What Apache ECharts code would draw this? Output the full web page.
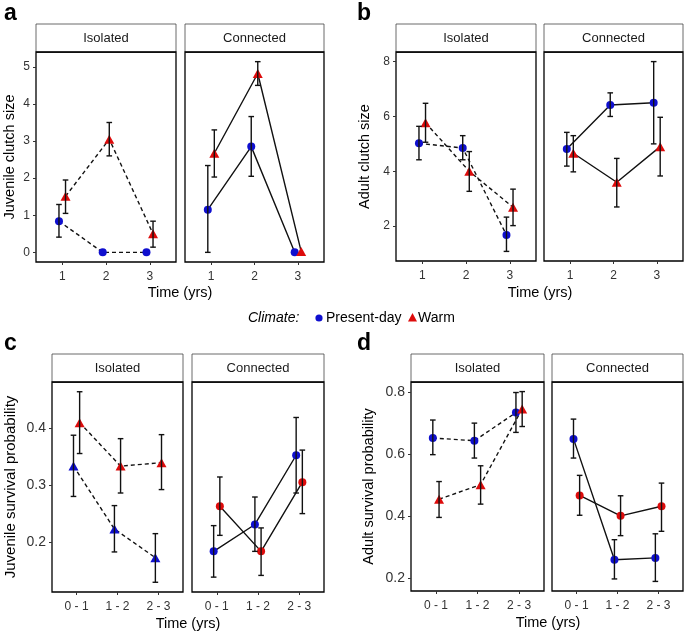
<!DOCTYPE html>
<html><head><meta charset="utf-8">
<script src="https://cdn.jsdelivr.net/npm/echarts@6/dist/echarts.min.js"></script>
<style>html,body{margin:0;padding:0;background:#fff}#c{width:691px;height:636px}</style>
</head><body><div id="c"></div>
<script>
// ---------- categories / tick labels ----------
const timeYears = ['1', '2', '3'];
const timeIntervals = ['0 - 1', '1 - 2', '2 - 3'];
const facets = ['Isolated', 'Connected'];
const climates = ['Present-day', 'Warm'];

// ---------- panel a: Juvenile clutch size ----------
const aIsoPresent   = [0.84, 0.00, 0.00];
const aIsoPresentLo = [0.41, null, null];
const aIsoPresentHi = [1.29, null, null];
const aIsoWarm      = [1.51, 3.05, 0.50];
const aIsoWarmLo    = [1.05, 2.60, 0.14];
const aIsoWarmHi    = [1.95, 3.50, 0.84];
const aConPresent   = [1.15, 2.85, 0.00];
const aConPresentLo = [0.00, 2.05, null];
const aConPresentHi = [2.34, 3.66, null];
const aConWarm      = [2.67, 4.82, 0.02];
const aConWarmLo    = [2.03, 4.50, null];
const aConWarmHi    = [3.30, 5.14, null];

// ---------- panel b: Adult clutch size ----------
const bIsoPresent   = [5.02, 4.85, 1.68];
const bIsoPresentLo = [4.42, 4.42, 1.08];
const bIsoPresentHi = [5.64, 5.30, 2.33];
const bIsoWarm      = [5.77, 4.00, 2.69];
const bIsoWarmLo    = [5.06, 3.27, 2.02];
const bIsoWarmHi    = [6.48, 4.72, 3.35];
const bConPresent   = [4.81, 6.42, 6.50];
const bConPresentLo = [4.19, 6.00, 5.00];
const bConPresentHi = [5.42, 6.86, 8.00];
const bConWarm      = [4.66, 3.60, 4.90];
const bConWarmLo    = [3.98, 2.70, 3.83];
const bConWarmHi    = [5.30, 4.47, 5.97];

// ---------- panel c: Juvenile survival probability ----------
const cIsoPresent   = [0.333, 0.223, 0.173];
const cIsoPresentLo = [0.280, 0.183, 0.130];
const cIsoPresentHi = [0.387, 0.264, 0.215];
const cIsoWarm      = [0.409, 0.333, 0.339];
const cIsoWarmLo    = [0.355, 0.286, 0.292];
const cIsoWarmHi    = [0.463, 0.381, 0.388];
const cConPresent   = [0.184, 0.231, 0.352];
const cConPresentLo = [0.139, 0.184, 0.286];
const cConPresentHi = [0.229, 0.279, 0.418];
const cConWarm      = [0.263, 0.184, 0.305];
const cConWarmLo    = [0.212, 0.142, 0.250];
const cConWarmHi    = [0.314, 0.225, 0.361];

// ---------- panel d: Adult survival probability ----------
const dIsoPresent   = [0.653, 0.644, 0.735];
const dIsoPresentLo = [0.599, 0.588, 0.671];
const dIsoPresentHi = [0.711, 0.701, 0.800];
const dIsoWarm      = [0.455, 0.502, 0.747];
const dIsoWarmLo    = [0.396, 0.439, 0.690];
const dIsoWarmHi    = [0.512, 0.563, 0.803];
const dConPresent   = [0.650, 0.259, 0.265];
const dConPresentLo = [0.588, 0.197, 0.189];
const dConPresentHi = [0.714, 0.324, 0.343];
const dConWarm      = [0.467, 0.401, 0.432];
const dConWarmLo    = [0.403, 0.337, 0.351];
const dConWarmHi    = [0.532, 0.466, 0.507];

// ---------- y tick values ----------
const aTicks = [0, 1, 2, 3, 4, 5];
const bTicks = [2, 4, 6, 8];
const cTicks = [0.2, 0.3, 0.4];
const dTicks = [0.2, 0.4, 0.6, 0.8];

// ---------- layout / style ----------
const FONT = '"Liberation Sans", Arial, sans-serif';
const BLUE = '#0f0fcf';
const RED = '#dd0b0b';
const DODGE = 0.075;

const panels = [
  { letter: 'a', lx: 4, ly: 2, ytitle: 'Juvenile clutch size', yMin: -0.26, yMax: 5.40, ticks: aTicks, cats: timeYears,
    top: 52, height: 210, lefts: [36, 185], widths: [140, 139], nameGap: 19, xTitleX: 180, xTitleY: 293, ySize: 12,
    fmt: v => String(v),
    data: [[aIsoPresent, aIsoPresentLo, aIsoPresentHi, aIsoWarm, aIsoWarmLo, aIsoWarmHi],
           [aConPresent, aConPresentLo, aConPresentHi, aConWarm, aConWarmLo, aConWarmHi]],
    shapes: [['circle', 'triangle'], ['circle', 'triangle']] },
  { letter: 'b', lx: 357, ly: 2, ytitle: 'Adult clutch size', yMin: 0.73, yMax: 8.35, ticks: bTicks, cats: timeYears,
    top: 52, height: 209, lefts: [396, 544], widths: [140, 139], nameGap: 24, xTitleX: 540, xTitleY: 293, ySize: 12,
    fmt: v => String(v),
    data: [[bIsoPresent, bIsoPresentLo, bIsoPresentHi, bIsoWarm, bIsoWarmLo, bIsoWarmHi],
           [bConPresent, bConPresentLo, bConPresentHi, bConWarm, bConWarmLo, bConWarmHi]],
    shapes: [['circle', 'triangle'], ['circle', 'triangle']] },
  { letter: 'c', lx: 4, ly: 332, ytitle: 'Juvenile survival probability', yMin: 0.113, yMax: 0.48, ticks: cTicks, cats: timeIntervals,
    top: 382, height: 210, lefts: [52, 192], widths: [131, 132], nameGap: 34, xTitleX: 188, xTitleY: 624, ySize: 14,
    fmt: v => v.toFixed(1),
    data: [[cIsoPresent, cIsoPresentLo, cIsoPresentHi, cIsoWarm, cIsoWarmLo, cIsoWarmHi],
           [cConPresent, cConPresentLo, cConPresentHi, cConWarm, cConWarmLo, cConWarmHi]],
    shapes: [['triangle', 'triangle'], ['circle', 'circle']] },
  { letter: 'd', lx: 357, ly: 332, ytitle: 'Adult survival probability', yMin: 0.158, yMax: 0.834, ticks: dTicks, cats: timeIntervals,
    top: 382, height: 209, lefts: [411, 552], widths: [133, 131], nameGap: 35, xTitleX: 548, xTitleY: 623, ySize: 14,
    fmt: v => v.toFixed(1),
    data: [[dIsoPresent, dIsoPresentLo, dIsoPresentHi, dIsoWarm, dIsoWarmLo, dIsoWarmHi],
           [dConPresent, dConPresentLo, dConPresentHi, dConWarm, dConWarmLo, dConWarmHi]],
    shapes: [['circle', 'triangle'], ['circle', 'circle']] }
];

const grid = [], xAxis = [], yAxis = [], series = [], graphic = [];

function errRender(params, api) {
  const x = api.value(0), lo = api.value(1), hi = api.value(2);
  if (lo == null || hi == null || isNaN(lo) || isNaN(hi)) return null;
  const p1 = api.coord([x, lo]), p2 = api.coord([x, hi]);
  const w = 2.8;
  const st = { stroke: '#111', lineWidth: 1.4 };
  return { type: 'group', children: [
    { type: 'line', shape: { x1: p1[0], y1: p1[1], x2: p2[0], y2: p2[1] }, style: st },
    { type: 'line', shape: { x1: p1[0] - w, y1: p1[1], x2: p1[0] + w, y2: p1[1] }, style: st },
    { type: 'line', shape: { x1: p2[0] - w, y1: p2[1], x2: p2[0] + w, y2: p2[1] }, style: st }
  ]};
}

let gi = 0;
panels.forEach(p => {
  graphic.push({ type: 'text', left: p.lx, top: p.ly, style: { text: p.letter, font: 'bold 23px ' + FONT, fill: '#000' } });
  graphic.push({ type: 'text', x: p.xTitleX, y: p.xTitleY, style: { text: 'Time (yrs)', font: '14.5px ' + FONT, fill: '#000', align: 'center', verticalAlign: 'middle' } });
  [0, 1].forEach(f => {
    const left = p.lefts[f], width = p.widths[f];
    grid.push({ left: left, top: p.top, width: width, height: p.height, show: true, borderColor: '#000', borderWidth: 1.3, backgroundColor: '#fff' });
    // strip
    graphic.push({ type: 'rect', shape: { x: left, y: p.top - 28, width: width, height: 28 }, style: { fill: '#fff', stroke: '#444', lineWidth: 0.8 }, z: 10 });
    graphic.push({ type: 'line', shape: { x1: left, y1: p.top, x2: left + width, y2: p.top }, style: { stroke: '#000', lineWidth: 1.3 }, z: 11 });
    graphic.push({ type: 'text', x: left + width / 2, y: p.top - 14, style: { text: facets[f], font: '13px ' + FONT, fill: '#1a1a1a', align: 'center', verticalAlign: 'middle' }, z: 12 });
    const cats = p.cats;
    xAxis.push({ gridIndex: gi, type: 'value', min: 0.4, max: 3.6, position: 'bottom',
      axisLine: { show: false, onZero: false }, splitLine: { show: false },
      axisTick: { show: true, customValues: [1, 2, 3], length: 3, lineStyle: { color: '#333', width: 1 } },
      axisLabel: { show: true, customValues: [1, 2, 3], margin: 9, color: '#333', fontSize: 12, fontFamily: FONT,
        formatter: v => cats[Math.round(v) - 1] } });
    yAxis.push({ gridIndex: gi, type: 'value', min: p.yMin, max: p.yMax, position: 'left',
      name: f === 0 ? p.ytitle : '', nameLocation: 'middle', nameGap: p.nameGap, nameRotate: 90,
      nameTextStyle: { fontSize: p.letter === 'c' ? 15 : 14.5, fontFamily: FONT, color: '#000' },
      axisLine: { show: false, onZero: false }, splitLine: { show: false },
      axisTick: { show: f === 0, customValues: p.ticks, length: 3, lineStyle: { color: '#333', width: 1 } },
      axisLabel: { show: f === 0, customValues: p.ticks, margin: 6, color: '#333', fontSize: p.ySize, fontFamily: FONT, formatter: p.fmt } });
    const d = p.data[f];
    const dash = f === 0 ? [4, 3] : 'solid';
    [0, 1].forEach(k => {
      const vals = d[k * 3], lo = d[k * 3 + 1], hi = d[k * 3 + 2];
      const off = k === 0 ? -DODGE : DODGE;
      const pts = vals.map((v, i) => [i + 1 + off, v]);
      const eb = vals.map((v, i) => [i + 1 + off, lo[i], hi[i]]);
      series.push({ type: 'custom', xAxisIndex: gi, yAxisIndex: gi, renderItem: errRender, data: eb, z: 3, silent: true,
        encode: { x: 0, y: [1, 2] } });
      series.push({ type: 'line', name: climates[k], xAxisIndex: gi, yAxisIndex: gi, data: pts,
        symbol: p.shapes[f][k], symbolSize: p.shapes[f][k] === 'triangle' ? [10, 9] : 8,
        showAllSymbol: true, z: 2, zlevel: 0,
        itemStyle: { color: k === 0 ? BLUE : RED },
        lineStyle: { color: '#111', width: 1.4, type: dash }, emphasis: { disabled: true }, silent: true });
    });
    gi++;
  });
});

// legend (as graphic text + symbols)
graphic.push({ type: 'text', x: 248, y: 318, style: { text: 'Climate:', font: 'italic 14px ' + FONT, fill: '#000', verticalAlign: 'middle' } });
graphic.push({ type: 'circle', shape: { cx: 319, cy: 318, r: 3.6 }, style: { fill: BLUE } });
graphic.push({ type: 'text', x: 326, y: 318, style: { text: 'Present-day', font: '14px ' + FONT, fill: '#000', verticalAlign: 'middle' } });
graphic.push({ type: 'polygon', shape: { points: [[412.5, 313], [408, 321.5], [417, 321.5]] }, style: { fill: RED } });
graphic.push({ type: 'text', x: 418, y: 318, style: { text: 'Warm', font: '14px ' + FONT, fill: '#000', verticalAlign: 'middle' } });

const chart = echarts.init(document.getElementById('c'), null, { renderer: 'canvas' });
chart.setOption({ animation: false, backgroundColor: '#fff', grid, xAxis, yAxis, series, graphic });
</script></body></html>
